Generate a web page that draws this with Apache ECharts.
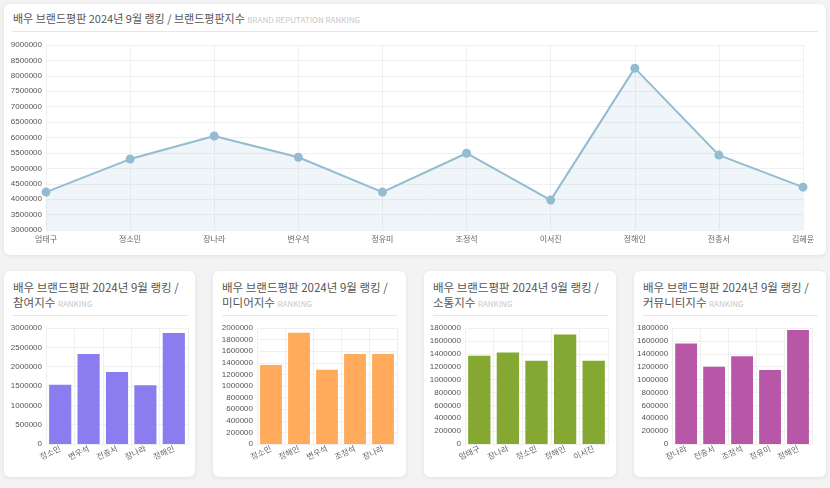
<!DOCTYPE html>
<html><head><meta charset="utf-8">
<script src="https://cdn.jsdelivr.net/npm/echarts@6/dist/echarts.min.js"></script>
<style>
body{margin:0;width:830px;height:488px;background:#f3f3f3;font-family:"Noto Sans CJK KR","Noto Sans",sans-serif;position:relative;overflow:hidden}
.card{position:absolute;background:#fff;border-radius:6px;box-shadow:0 1px 4px rgba(0,0,0,0.08)}
.t{position:absolute;color:#555;line-height:15px}
.t span{color:#c8c8c8;font-size:8px}
.sep{position:absolute;height:1px;background:#e6e6e6}
.ch{position:absolute}
</style></head><body>
<div class="card" style="left:4px;top:4px;width:822px;height:251px"></div>
<div class="t" style="left:13px;top:11px;font-size:11px">배우 브랜드평판 2024년 9월 랭킹 / 브랜드평판지수 <span>BRAND REPUTATION RANKING</span></div>
<div class="sep" style="left:12px;top:31px;width:806px"></div>
<div class="ch" id="c0" style="left:4px;top:35px;width:822px;height:215px"></div>

<div class="card" style="left:4px;top:271px;width:191px;height:206px"></div>
<div class="card" style="left:213px;top:271px;width:193px;height:206px"></div>
<div class="card" style="left:424px;top:271px;width:192px;height:206px"></div>
<div class="card" style="left:634px;top:271px;width:192px;height:206px"></div>
<div id="titles"></div>
<div class="ch" id="c1" style="left:4px;top:318px;width:191px;height:155px"></div>
<div class="ch" id="c2" style="left:213px;top:318px;width:193px;height:155px"></div>
<div class="ch" id="c3" style="left:424px;top:318px;width:192px;height:155px"></div>
<div class="ch" id="c4" style="left:634px;top:318px;width:192px;height:155px"></div>
<script>
const topNames=['엄태구','정소민','장나라','변우석','정유미','조정석','이서진','정해인','전종서','김혜윤'];
const topValues=[4230000,5300000,6050000,5360000,4230000,5490000,3970000,8250000,5430000,4390000];
const names1=['정소민','변우석','전종서','장나라','정해인'];
const values1=[1530000,2330000,1860000,1520000,2870000];
const names2=['정소민','정해인','변우석','조정석','장나라'];
const values2=[1360000,1920000,1280000,1550000,1550000];
const names3=['엄태구','장나라','정소민','정해인','이서진'];
const values3=[1370000,1420000,1290000,1700000,1290000];
const names4=['장나라','전종서','조정석','정유미','정해인'];
const values4=[1560000,1200000,1360000,1150000,1770000];
const titles=[['배우 브랜드평판 2024년 9월 랭킹 / 참여지수',4],['배우 브랜드평판 2024년 9월 랭킹 / 미디어지수',213],['배우 브랜드평판 2024년 9월 랭킹 / 소통지수',424],['배우 브랜드평판 2024년 9월 랭킹 / 커뮤니티지수',634]];
let h='';
titles.forEach(([t,x])=>{
 h+=`<div class="t" style="left:${x+9}px;top:280px;width:174px;font-size:11.5px;line-height:15px;word-break:break-all">${t} <span>RANKING</span></div><div class="sep" style="left:${x+9}px;top:315px;width:${175}px"></div>`;
});
document.getElementById('titles').innerHTML=h;
const FONT='"Noto Sans CJK KR","Noto Sans",sans-serif';
const gridLine={show:true,lineStyle:{color:'#f0f0f0'}};
const fmt=v=>String(v);
echarts.init(document.getElementById('c0')).setOption({
 animation:false,
 grid:{left:42,right:23,top:10,bottom:20},
 xAxis:{type:'category',data:topNames,boundaryGap:false,axisLine:{show:false},axisTick:{show:false},splitLine:gridLine,axisLabel:{fontSize:8,color:'#666',fontFamily:FONT,margin:5}},
 yAxis:{type:'value',min:3000000,max:9000000,interval:500000,axisLine:{show:false},axisTick:{show:false},splitLine:gridLine,axisLabel:{fontSize:8,color:'#555',margin:4,formatter:fmt}},
 series:[{type:'line',data:topValues,symbol:'circle',symbolSize:9,itemStyle:{color:'#94bcd1'},lineStyle:{color:'#94bcd1',width:2},areaStyle:{color:'rgba(148,188,209,0.22)'}}]
});
function bar(id,names,vals,max,interval,color,left,right){
 echarts.init(document.getElementById(id)).setOption({
  animation:false,
  grid:{left:left,right:right,top:10,bottom:29},
  xAxis:{type:'category',data:names,axisLine:{show:false},axisTick:{show:false},splitLine:gridLine,axisLabel:{fontSize:8,color:'#666',rotate:25,fontFamily:FONT,margin:4}},
  yAxis:{type:'value',min:0,max:max,interval:interval,axisLine:{show:false},axisTick:{show:false},splitLine:gridLine,axisLabel:{fontSize:8,color:'#555',margin:4,formatter:fmt}},
  series:[{type:'bar',data:vals,barCategoryGap:'22%',itemStyle:{color:color}}]
 });
}
bar('c1',names1,values1,3000000,500000,'#8b7cf0',42,7);
bar('c2',names2,values2,2000000,200000,'#ffab5b',44,9);
bar('c3',names3,values3,1800000,200000,'#85a832',41,8);
bar('c4',names4,values4,1800000,200000,'#b857a8',38,14);
</script></body></html>
